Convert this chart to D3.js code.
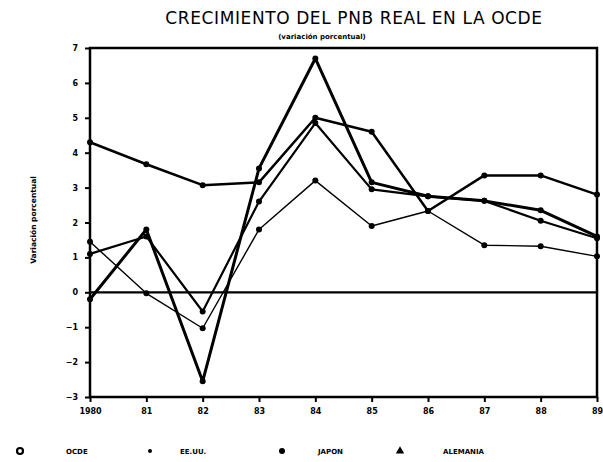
<!DOCTYPE html>
<html>
<head>
<meta charset="utf-8">
<script src="https://cdn.jsdelivr.net/npm/d3@7.9.0/dist/d3.min.js"></script>
<style>
  body { margin: 0; background: #fff; }
  svg text { font-family: "DejaVu Sans", sans-serif; fill: #000; }
</style>
</head>
<body>
<svg id="chart" width="603" height="462"></svg>
<script>
// data (real GNP growth, %)
const years = [1980, 1981, 1982, 1983, 1984, 1985, 1986, 1987, 1988, 1989];
const yearLabels = ['1980', '81', '82', '83', '84', '85', '86', '87', '88', '89'];
const yTicks = [-3, -2, -1, 0, 1, 2, 3, 4, 5, 6, 7];

const ocde = [1.1, 1.6, -0.55, 2.6, 4.85, 2.95, 2.75, 2.62, 2.05, 1.55];
const eeuu = [-0.2, 1.8, -2.55, 3.55, 6.7, 3.15, 2.75, 2.62, 2.35, 1.6];
const japon = [4.3, 3.67, 3.07, 3.15, 5.0, 4.6, 2.33, 3.35, 3.35, 2.8];
const alemania = [1.45, -0.03, -1.03, 1.8, 3.2, 1.9, 2.33, 1.35, 1.32, 1.03];

const seriesNames = ['OCDE', 'EE.UU.', 'JAPON', 'ALEMANIA'];

const svg = d3.select('#chart');
const margin = { left: 90, right: 6, top: 48, bottom: 65 };
const width = 603, height = 462;

let x = d3.scaleLinear().domain([1980, 1989]).range([margin.left, width - margin.right]);
let y = d3.scaleLinear().domain([-3, 7]).range([height - margin.bottom, margin.top]);

// title
svg.append('text')
  .attr('x', 354).attr('y', 24)
  .attr('text-anchor', 'middle')
  .style('font-size', '17px')
  .style('letter-spacing', '0.6px')
  .text('CRECIMIENTO DEL PNB REAL EN LA OCDE');

svg.append('text')
  .attr('x', 322).attr('y', 39)
  .attr('text-anchor', 'middle')
  .style('font-size', '7px')
  .style('font-weight', 'bold')
  .text('(variación porcentual)');

// y label
svg.append('text')
  .attr('transform', 'translate(36,220) rotate(-90)')
  .attr('text-anchor', 'middle')
  .style('font-size', '7.5px')
  .style('font-weight', 'bold')
  .text('Variación porcentual');

// plot frame
svg.append('rect')
  .attr('x', x(1980)).attr('y', y(7))
  .attr('width', x(1989) - x(1980)).attr('height', y(-3) - y(7))
  .attr('fill', 'none').attr('stroke', '#000').attr('stroke-width', 2.5);

// axes
let yAxis = svg.append('g')
  .attr('transform', `translate(${x(1980)},0)`)
  .call(d3.axisLeft(y).tickValues(yTicks).tickSize(5).tickFormat(d3.format('d')));
let xAxis = svg.append('g')
  .attr('transform', `translate(0,${y(-3)})`)
  .call(d3.axisBottom(x).tickValues(years).tickSize(5).tickFormat((d, i) => yearLabels[i]));

[yAxis, xAxis].forEach(g => {
  g.select('.domain').remove();
  g.selectAll('line').attr('stroke', '#000').attr('stroke-width', 2);
  g.selectAll('text').style('font-size', '8px').style('font-weight', 'bold').attr('font-family', null);
});
yAxis.selectAll('text').attr('x', -12);
xAxis.selectAll('text').attr('y', 11);

// zero line
svg.append('line')
  .attr('x1', x(1980)).attr('x2', x(1989))
  .attr('y1', y(0)).attr('y2', y(0))
  .attr('stroke', '#000').attr('stroke-width', 2.2);

// series
const allSeries = [
  { name: 'OCDE', values: ocde, w: 2.2 },
  { name: 'EE.UU.', values: eeuu, w: 3 },
  { name: 'JAPON', values: japon, w: 2.5 },
  { name: 'ALEMANIA', values: alemania, w: 1.4 }
];

let line = d3.line()
  .x((d, i) => x(years[i]))
  .y(d => y(d));

allSeries.forEach(s => {
  svg.append('path')
    .attr('d', line(s.values))
    .attr('fill', 'none')
    .attr('stroke', '#000')
    .attr('stroke-width', s.w)
    .attr('stroke-linejoin', 'round');
  svg.selectAll(null)
    .data(s.values)
    .enter()
    .append('circle')
    .attr('cx', (d, i) => x(years[i]))
    .attr('cy', d => y(d))
    .attr('r', 3)
    .attr('fill', '#000');
});

// legend
const legendX = [20, 150, 282, 400];
const legendTextX = [66, 180, 318, 443];
const legendY = 451;
seriesNames.forEach((name, i) => {
  if (i === 0) {
    svg.append('circle').attr('cx', legendX[i]).attr('cy', legendY).attr('r', 3)
      .attr('fill', '#fff').attr('stroke', '#000').attr('stroke-width', 2.2);
  } else if (i === 3) {
    svg.append('path')
      .attr('d', d3.symbol().type(d3.symbolTriangle).size(30)())
      .attr('transform', `translate(${legendX[i]},${legendY})`)
      .attr('fill', '#000');
  } else {
    svg.append('circle').attr('cx', legendX[i]).attr('cy', legendY).attr('r', i === 1 ? 2 : 3)
      .attr('fill', '#000');
  }
  svg.append('text')
    .attr('x', legendTextX[i]).attr('y', legendY + 3)
    .style('font-size', '7px')
    .style('font-weight', 'bold')
    .text(name);
});
</script>
</body>
</html>
